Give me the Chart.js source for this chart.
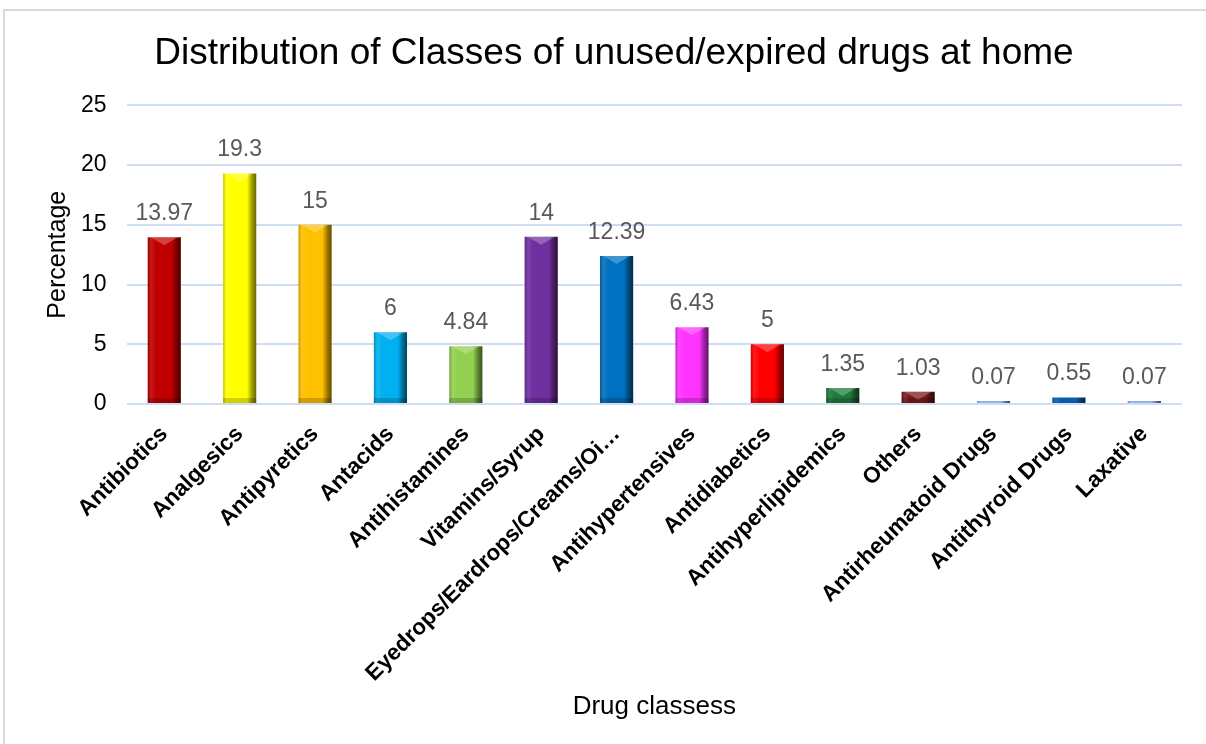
<!DOCTYPE html>
<html>
<head>
<meta charset="utf-8">
<script src="https://cdn.jsdelivr.net/npm/chart.js@4.4.1/dist/chart.umd.min.js"></script>
<style>
    body { margin: 0; background: #fff; overflow: hidden; }
    #frame {
        position: absolute;
        left: 3px;
        top: 9px;
        width: 1210px;
        height: 740px;
        border: 2px solid #d9d9d9;
        box-sizing: border-box;
    }
    #chart-wrap { position: absolute; left: 0; top: 0; width: 1206px; height: 744px; }
</style>
</head>
<body>
<div id="frame"></div>
<div id="chart-wrap"><canvas id="drug-classes-chart"></canvas></div>
<script>
const drugClasses = [
    "Antibiotics", "Analgesics", "Antipyretics", "Antacids", "Antihistamines",
    "Vitamins/Syrup", "Eyedrops/Eardrops/Creams/Oi…", "Antihypertensives",
    "Antidiabetics", "Antihyperlipidemics", "Others", "Antirheumatoid Drugs",
    "Antithyroid Drugs", "Laxative"
];
const percentages = [13.97, 19.3, 15, 6, 4.84, 14, 12.39, 6.43, 5, 1.35, 1.03, 0.07, 0.55, 0.07];
const barColors = [
    "#c00000", "#ffff00", "#ffc000", "#00b0f0", "#92d050", "#7030a0", "#0070c0",
    "#ff33ff", "#ff0000", "#217a3c", "#7b1a1a", "#8db3e8", "#0a5ca8", "#8db3e8"
];
const yTicks = [0, 5, 10, 15, 20, 25];

const FONT = "'Liberation Sans', Arial, sans-serif";
const BAR_SHARE = 0.44;

function shade(hex, amt) {
    let n = parseInt(hex.slice(1), 16);
    let r = (n >> 16) & 255, g = (n >> 8) & 255, b = n & 255;
    const f = (c) => Math.max(0, Math.min(255, Math.round(amt < 0 ? c * (1 + amt) : c + (255 - c) * amt)));
    return "rgb(" + f(r) + "," + f(g) + "," + f(b) + ")";
}

// bevel look: light left edge, dark right edge
function bevelFill(ctx) {
    const chart = ctx.chart;
    const base = barColors[ctx.dataIndex];
    if (!chart.chartArea || !chart.scales.x) {
        return base;
    }
    const xs = chart.scales.x;
    const centre = xs.getPixelForValue(ctx.dataIndex);
    const half = (xs.width / drugClasses.length) * BAR_SHARE / 2;
    const grad = chart.ctx.createLinearGradient(centre - half, 0, centre + half, 0);
    grad.addColorStop(0, shade(base, -0.2));
    grad.addColorStop(0.1, shade(base, 0.1));
    grad.addColorStop(0.25, base);
    grad.addColorStop(0.72, base);
    grad.addColorStop(0.88, shade(base, -0.4));
    grad.addColorStop(1, shade(base, -0.6));
    return grad;
}

// value above each bar + small top highlight like the Excel bevel
const valueLabels = {
    id: "valueLabels",
    afterDatasetsDraw(chart) {
        const c = chart.ctx;
        const meta = chart.getDatasetMeta(0);
        c.save();
        meta.data.forEach((bar) => {
            const h = bar.base - bar.y;
            if (h < 10) return;
            const half = bar.width / 2;
            c.fillStyle = "rgba(255,255,255,0.25)";
            c.beginPath();
            c.moveTo(bar.x - half + 3, bar.y);
            c.lineTo(bar.x + half - 3, bar.y);
            c.lineTo(bar.x, bar.y + 8);
            c.closePath();
            c.fill();
            c.fillStyle = "rgba(0,0,0,0.18)";
            c.fillRect(bar.x - half, bar.base - 5, bar.width, 5);
        });
        c.font = "23px " + FONT;
        c.fillStyle = "#595959";
        c.textAlign = "center";
        c.textBaseline = "alphabetic";
        meta.data.forEach((bar, i) => {
            c.fillText(String(percentages[i]), bar.x, bar.y - 17);
        });
        c.restore();
    },
};

const chartCanvas = document.getElementById("drug-classes-chart");
const drugChart = new Chart(chartCanvas, {
    type: "bar",
    data: {
        labels: drugClasses,
        datasets: [
            {
                label: "Percentage",
                data: percentages,
                backgroundColor: bevelFill,
                borderWidth: 0,
                minBarLength: 3,
                categoryPercentage: 1,
                barPercentage: BAR_SHARE,
            },
        ],
    },
    options: {
        maintainAspectRatio: false,
        responsive: true,
        animation: false,
        layout: { padding: { top: 0, left: 46, right: 24, bottom: 22 } },
        scales: {
            x: {
                grid: { display: false, drawTicks: false },
                border: { display: false },
                ticks: {
                    autoSkip: false,
                    maxRotation: 45,
                    minRotation: 45,
                    color: "#000",
                    padding: 17,
                    font: { family: FONT, size: 22.5, weight: "bold" },
                },
                title: {
                    display: true,
                    text: "Drug classess",
                    color: "#000",
                    font: { family: FONT, size: 26 },
                    padding: { top: -13, bottom: 0 },
                },
            },
            y: {
                min: 0,
                max: 25,
                afterBuildTicks: (axis) => {
                    axis.ticks = yTicks.map((v) => ({ value: v }));
                },
                grid: { color: "#cfddf4", lineWidth: 2, drawTicks: false },
                border: { display: false },
                ticks: {
                    color: "#000",
                    padding: 20,
                    font: { family: FONT, size: 23 },
                },
                title: {
                    display: true,
                    text: "Percentage",
                    color: "#000",
                    font: { family: FONT, size: 25, lineHeight: 1 },
                    padding: { top: 0, bottom: -10 },
                },
            },
        },
        plugins: {
            title: {
                display: true,
                text: "Distribution of Classes of unused/expired drugs at home",
                color: "#000",
                font: { family: FONT, size: 37, weight: "normal" },
                padding: { top: 32, bottom: 29 },
            },
            legend: { display: false },
            tooltip: { enabled: false },
        },
    },
    plugins: [valueLabels],
});
</script>
</body>
</html>
